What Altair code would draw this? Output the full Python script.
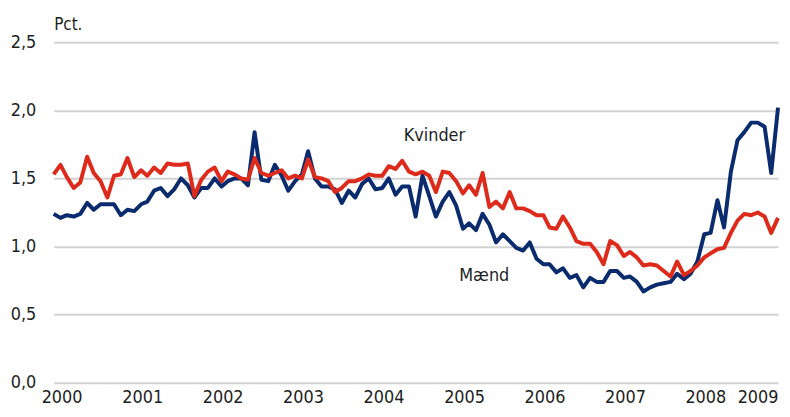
import altair as alt
import pandas as pd

# ---- data (monthly, Jan 2000 - Jan 2009) ----
start_month = "2000-01-01"

maend = [
    1.24, 1.21, 1.23, 1.22, 1.24, 1.32, 1.27, 1.31, 1.31, 1.31, 1.23, 1.27,
    1.26, 1.31, 1.33, 1.41, 1.43, 1.37, 1.42, 1.50, 1.45, 1.36, 1.43, 1.43,
    1.50, 1.44, 1.48, 1.50, 1.50, 1.45, 1.84, 1.49, 1.48, 1.60, 1.52, 1.41,
    1.48, 1.53, 1.70, 1.50, 1.44, 1.44, 1.42, 1.32, 1.41, 1.36, 1.46, 1.50,
    1.42, 1.43, 1.50, 1.38, 1.44, 1.44, 1.22, 1.52, 1.37, 1.22, 1.33, 1.40,
    1.30, 1.13, 1.17, 1.12, 1.24, 1.16, 1.03, 1.09, 1.04, 0.99, 0.97, 1.03,
    0.91, 0.87, 0.87, 0.81, 0.84, 0.77, 0.79, 0.70, 0.77, 0.74, 0.74, 0.82,
    0.82, 0.77, 0.78, 0.74, 0.67, 0.70, 0.72, 0.73, 0.74, 0.80, 0.76, 0.80,
    0.89, 1.09, 1.10, 1.34, 1.14, 1.55, 1.78, 1.84, 1.91, 1.91, 1.88, 1.54,
    2.02,
]

kvinder = [
    1.53, 1.60, 1.51, 1.43, 1.47, 1.66, 1.54, 1.48, 1.36, 1.52, 1.53, 1.65,
    1.51, 1.56, 1.52, 1.58, 1.54, 1.61, 1.60, 1.60, 1.61, 1.37, 1.49, 1.55,
    1.58, 1.48, 1.55, 1.53, 1.50, 1.49, 1.65, 1.54, 1.52, 1.54, 1.56, 1.50,
    1.52, 1.50, 1.64, 1.51, 1.50, 1.48, 1.40, 1.43, 1.48, 1.48, 1.50, 1.53,
    1.52, 1.52, 1.59, 1.57, 1.63, 1.55, 1.53, 1.55, 1.52, 1.40, 1.55, 1.54,
    1.48, 1.39, 1.45, 1.38, 1.54, 1.29, 1.33, 1.28, 1.40, 1.28, 1.28, 1.26,
    1.23, 1.23, 1.14, 1.13, 1.22, 1.14, 1.04, 1.02, 1.02, 0.96, 0.87, 1.04,
    1.01, 0.93, 0.96, 0.92, 0.86, 0.87, 0.86, 0.82, 0.78, 0.89, 0.79, 0.82,
    0.86, 0.92, 0.95, 0.98, 0.99, 1.10, 1.19, 1.24, 1.23, 1.25, 1.22, 1.10,
    1.21,
]

year_ticks = list(range(2000, 2010))
y_ticks = [0.0, 0.5, 1.0, 1.5, 2.0, 2.5]

ann_labels = ["Kvinder", "Mænd"]
ann_dates = ["2004-05-08T00:00:00", "2005-01-15T00:00:00"]
ann_values = [1.778, 0.743]

# ---- styling ----
FONT = "DejaVu Sans Condensed, Liberation Sans Narrow, Liberation Sans, sans-serif"
BLUE = "#0a2b6e"
RED = "#dd2a1b"
TEXT = "#1e1e1e"
GRID = "#d3d3d3"

dates = pd.date_range(start_month, periods=len(maend), freq="MS")
df = pd.DataFrame({"date": dates, "maend": maend, "kvinder": kvinder})
ann = pd.DataFrame({"label": ann_labels, "date": ann_dates, "value": ann_values})

x_scale = alt.Scale(
    domain=[alt.DateTime(year=2000, month=1, date=1), alt.DateTime(year=2009, month=1, date=1)],
    nice=False,
)
y_scale = alt.Scale(domain=[0, 2.5], nice=False)

last_test = "year(datum.value) >= 2009"
x_axis = alt.Axis(
    values=[alt.DateTime(year=y, month=1, date=1) for y in year_ticks],
    format="%Y",
    title=None,
    grid=False,
    domain=False,
    ticks=False,
    tickSize=0,
    labelFlush=False,
    labelOverlap=False,
    labelFont=FONT,
    labelFontSize=18,
    labelColor=TEXT,
    labelBaseline="alphabetic",
    labelPadding=20,
    labelAlign={"condition": {"test": last_test, "value": "right"}, "value": "center"},
    labelOffset={"condition": {"test": last_test, "value": 0}, "value": 8},
)

y_axis = alt.Axis(
    values=y_ticks,
    labelExpr="replace(format(datum.value, '.1f'), '.', ',')",
    title="Pct.",
    titleAngle=0,
    titleAlign="left",
    titleBaseline="alphabetic",
    titleX=0,
    titleY=-13,
    titleFont=FONT,
    titleFontSize=17,
    titleFontWeight="normal",
    titleColor=TEXT,
    grid=True,
    gridColor=GRID,
    gridWidth=2,
    domain=False,
    ticks=False,
    tickSize=0,
    labelFont=FONT,
    labelFontSize=18,
    labelColor=TEXT,
    labelPadding=18,
)

base = alt.Chart(df).encode(x=alt.X("date:T", scale=x_scale, axis=x_axis))

blue = base.mark_line(color=BLUE, strokeWidth=4, strokeJoin="round").encode(
    y=alt.Y("maend:Q", scale=y_scale, axis=y_axis)
)
red = base.mark_line(color=RED, strokeWidth=4, strokeJoin="round").encode(
    y=alt.Y("kvinder:Q", scale=y_scale, axis=y_axis)
)

labels = alt.Chart(ann).mark_text(
    align="left", baseline="alphabetic", font=FONT, fontSize=18, color=TEXT
).encode(
    x=alt.X("date:T", scale=x_scale, axis=x_axis),
    y=alt.Y("value:Q", scale=y_scale, axis=y_axis),
    text="label:N",
)

chart = alt.layer(blue, red, labels).properties(
    width=730,
    height=343,
    autosize=alt.AutoSizeParams(type="none"),
    padding={"left": 46, "top": 33, "right": 4, "bottom": 25},
    background="white",
).configure_view(stroke=None)

chart.save("out.html", embed_options={"renderer": "svg", "actions": False})
